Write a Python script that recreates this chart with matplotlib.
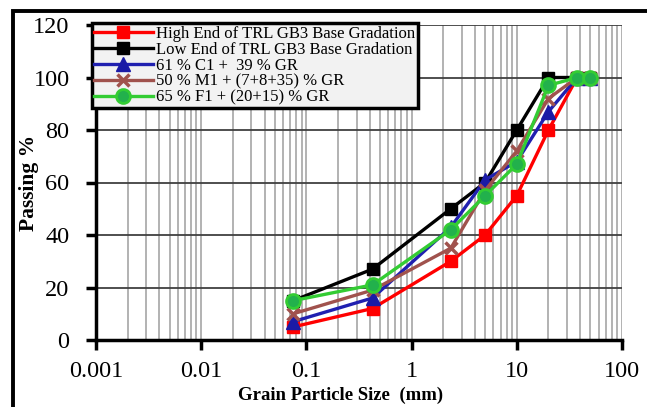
import matplotlib
matplotlib.use("Agg")
import matplotlib.pyplot as plt
from matplotlib.patches import Rectangle
from matplotlib.ticker import LogLocator, NullFormatter, FixedLocator, FixedFormatter

sizes = [0.075, 0.425, 2.36, 5, 10, 20, 37.5, 50]
high_end = [5, 12, 30, 40, 55, 80, 100, 100]
low_end = [15, 27, 50, 60, 80, 100, 100, 100]
mix_c1 = [7, 16, 43, 61, 68, 87, 100, 100]
mix_m1 = [10, 19, 35, 57, 72, 92, 100, 100]
mix_f1 = [15, 21, 42, 55, 67, 97, 100, 100]

labels = ["High End of TRL GB3 Base Gradation",
          "Low End of TRL GB3 Base Gradation",
          "61 % C1 +  39 % GR",
          "50 % M1 + (7+8+35) % GR",
          "65 % F1 + (20+15) % GR"]
x_ticks = [0.001, 0.01, 0.1, 1, 10, 100]
x_tick_labels = ["0.001", "0.01", "0.1", "1", "10", "100"]
y_ticks = [0, 20, 40, 60, 80, 100, 120]

plt.rcParams['font.family'] = ['Liberation Serif', 'DejaVu Serif']

fig = plt.figure(figsize=(6.47, 4.07), dpi=100)
ax = fig.add_axes([96/647, 1-340/407, (622-96)/647, (340-25)/407])

styles = [
    dict(color='#ff0000', marker='s', ms=8, mfc='#ff0000', mec='#ff0000'),
    dict(color='#000000', marker='s', ms=9, mfc='#000000', mec='#000000'),
    dict(color='#2020b0', marker='^', ms=10, mfc='#1a1aa6', mec='#1a1aa6'),
    dict(color='#a0524d', marker='x', ms=8, mew=2.5, mec='#a0524d'),
    dict(color='#33cc33', marker='o', ms=10, mfc='#22b14c', mec='#33cc33', mew=2),
]
series = [high_end, low_end, mix_c1, mix_m1, mix_f1]
for vals, lab, st in zip(series, labels, styles):
    ax.plot(sizes, vals, lw=2.4, label=lab, zorder=3, **st)

ax.set_xscale('log')
ax.set_xlim(0.001, 100)
ax.set_ylim(0, 120)
ax.xaxis.set_major_locator(FixedLocator(x_ticks))
ax.xaxis.set_major_formatter(FixedFormatter(x_tick_labels))
ax.xaxis.set_minor_locator(LogLocator(base=10, subs=range(2, 10), numticks=20))
ax.xaxis.set_minor_formatter(NullFormatter())
ax.set_yticks(y_ticks)

ax.grid(True, which='major', axis='y', color='#404040', lw=1.3, zorder=1)
ax.grid(True, which='both', axis='x', color='#a6a6a6', lw=1.2, zorder=1)
ax.set_axisbelow(True)

for s in ['top', 'right']:
    ax.spines[s].set_visible(False)
for s in ['left', 'bottom']:
    ax.spines[s].set_linewidth(2.5)
    ax.spines[s].set_color('black')
ax.tick_params(axis='both', which='major', direction='out', length=7, width=2.5,
               labelsize=17.5)
ax.tick_params(axis='y', pad=12)
ax.tick_params(axis='x', pad=8)
ax.tick_params(axis='x', which='minor', length=0)

ax.set_xlabel("Grain Particle Size  (mm)", fontsize=13.5, fontweight='bold')
ax.xaxis.set_label_coords((341-96)/526, -(387-340)/315)
ax.set_ylabel("Passing %", fontsize=15.5, fontweight='bold')
ax.yaxis.set_label_coords(-(96-39)/526, 0.5)

leg = ax.legend(loc='upper left', bbox_to_anchor=(-0.008, 1.006), fontsize=12,
                frameon=True, fancybox=False, handlelength=3.5, handletextpad=0.2,
                labelspacing=0.0, borderpad=0.15, borderaxespad=0)
leg.get_frame().set_facecolor('#f2f2f2')
leg.get_frame().set_edgecolor('black')
leg.get_frame().set_linewidth(2.5)
leg.get_frame().set_alpha(1)
leg.set_zorder(5)

fig.patches.append(Rectangle((13/647, -0.1), 2.0, (1-11/407)+0.1,
                             transform=fig.transFigure, fill=False,
                             edgecolor='black', lw=2.8, zorder=10))

fig.savefig("out.png", dpi=100)
